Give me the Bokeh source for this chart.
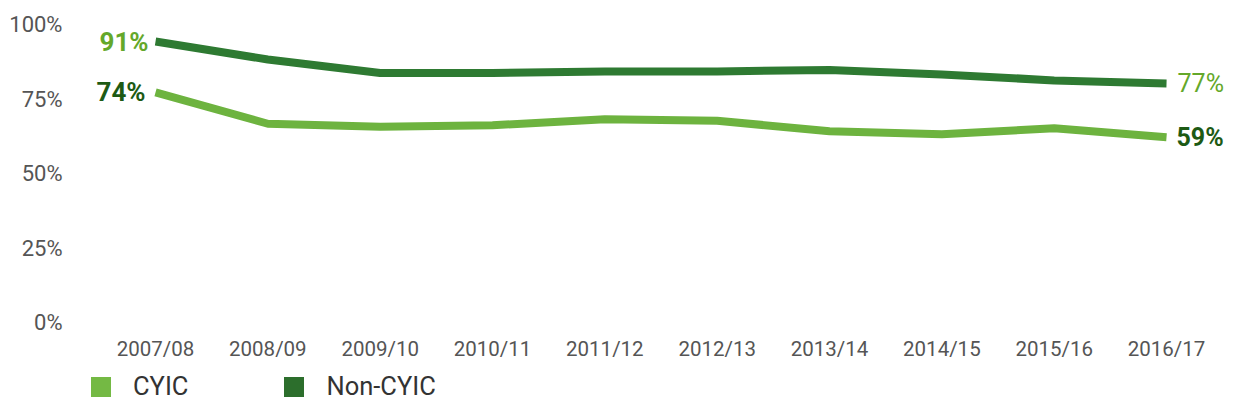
import numpy as np
from bokeh.plotting import figure
from bokeh.layouts import column
from bokeh.models import Range1d, FixedTicker, Legend, LegendItem, ColumnDataSource
from bokeh.core.properties import value
from bokeh.embed import file_html
from bokeh.resources import INLINE

# ---- data ----
years = ["2007/08", "2008/09", "2009/10", "2010/11", "2011/12",
         "2012/13", "2013/14", "2014/15", "2015/16", "2016/17"]
cyic = [74, 63.5, 62.5, 63, 65, 64.5, 61, 60, 62, 59]
non_cyic = [91, 85, 80.5, 80.5, 81, 81, 81.5, 80, 78, 77]
y_ticks = [0, 25, 50, 75, 100]
series_names = ["CYIC", "Non-CYIC"]

# ---- style ----
LIGHT = "#6db33f"
DARK = "#2e7a32"
LIGHT_TXT = "#64a82a"
DARK_TXT = "#1d5a14"
LEG_LIGHT = "#74b944"
LEG_DARK = "#2c6e2c"
FONT = "Roboto"

x = list(range(len(years)))

p = figure(width=1225, height=363, output_backend="svg", toolbar_location=None,
           x_range=Range1d(-0.739, 9.525), y_range=Range1d(-2.98, 96.7),
           min_border_left=72, min_border_right=0, min_border_top=24,
           min_border_bottom=38)
p.outline_line_color = None
p.grid.grid_line_color = None
p.background_fill_color = "white"

# percentage scale as printed in the original (labels sit slightly below the lines' levels)
p.extra_y_ranges = {"pct": Range1d(0, 100)}
p.yaxis[0].y_range_name = "pct"
p.yaxis.ticker = FixedTicker(ticks=y_ticks)
p.yaxis.major_label_overrides = {t: f"{t}%" for t in y_ticks}
p.xaxis.ticker = FixedTicker(ticks=x)
p.xaxis.major_label_overrides = {i: years[i] for i in x}
for ax in (p.xaxis, p.yaxis):
    ax.axis_line_color = None
    ax.major_tick_line_color = None
    ax.minor_tick_line_color = None
    ax.major_label_text_font = FONT
    ax.major_label_text_color = "#555555"
p.yaxis.major_label_text_font_size = "22px"
p.yaxis.major_label_standoff = 4
p.xaxis.major_label_text_font_size = "20.5px"
p.xaxis.major_label_standoff = 8

p.line(x, non_cyic, line_color=DARK, line_width=8, line_join="round")
p.line(x, cyic, line_color=LIGHT, line_width=8, line_join="round")

first, last = 0, len(x) - 1
# start labels
p.text(x=[x[first]], y=[non_cyic[first]], text=[f"{non_cyic[first]:g}%"],
       text_align="right", text_baseline="middle", x_offset=-7,
       text_font=value(FONT), text_font_size="26px", text_font_style="bold",
       text_color=LIGHT_TXT)
p.text(x=[x[first]], y=[cyic[first]], text=[f"{cyic[first]:g}%"],
       text_align="right", text_baseline="middle", x_offset=-10,
       text_font=value(FONT), text_font_size="26px", text_font_style="bold",
       text_color=DARK_TXT)
# end labels
p.text(x=[x[last]], y=[non_cyic[last]], text=[f"{non_cyic[last]:g}%"],
       text_align="left", text_baseline="middle", x_offset=11,
       text_font=value(FONT), text_font_size="25px",
       text_color=LIGHT_TXT)
p.text(x=[x[last]], y=[cyic[last]], text=[f"{cyic[last]:g}%"],
       text_align="left", text_baseline="middle", x_offset=10,
       text_font=value(FONT), text_font_size="25px", text_font_style="bold",
       text_color=DARK_TXT)

# ---- legend strip ----
lg = figure(width=1225, height=38, output_backend="svg", toolbar_location=None,
            min_border_left=0, min_border_right=0, min_border_top=0,
            min_border_bottom=0)
lg.axis.visible = False
lg.grid.grid_line_color = None
lg.outline_line_color = None
# swatch renderers with no visible mark (NaN geometry)
nan = dict(left=np.array([np.nan]), right=np.array([np.nan]),
           top=np.array([np.nan]), bottom=np.array([np.nan]))
q1 = lg.quad(source=ColumnDataSource(nan), fill_color=LEG_LIGHT, line_color=None)
q2 = lg.quad(source=ColumnDataSource(dict(nan)), fill_color=LEG_DARK, line_color=None)

legend = Legend(items=[LegendItem(label=series_names[0], renderers=[q1]),
                       LegendItem(label=series_names[1], renderers=[q2])],
                location=(16, 0), orientation="horizontal",
                glyph_width=25, glyph_height=25, label_standoff=20, spacing=93,
                padding=0, margin=0, border_line_color=None,
                background_fill_alpha=0,
                label_text_font=FONT, label_text_font_size="25.5px",
                label_text_color="#333333")
lg.add_layout(legend, "center")

layout = column(p, lg, spacing=0)
open("out.html", "w").write(file_html(layout, INLINE))
